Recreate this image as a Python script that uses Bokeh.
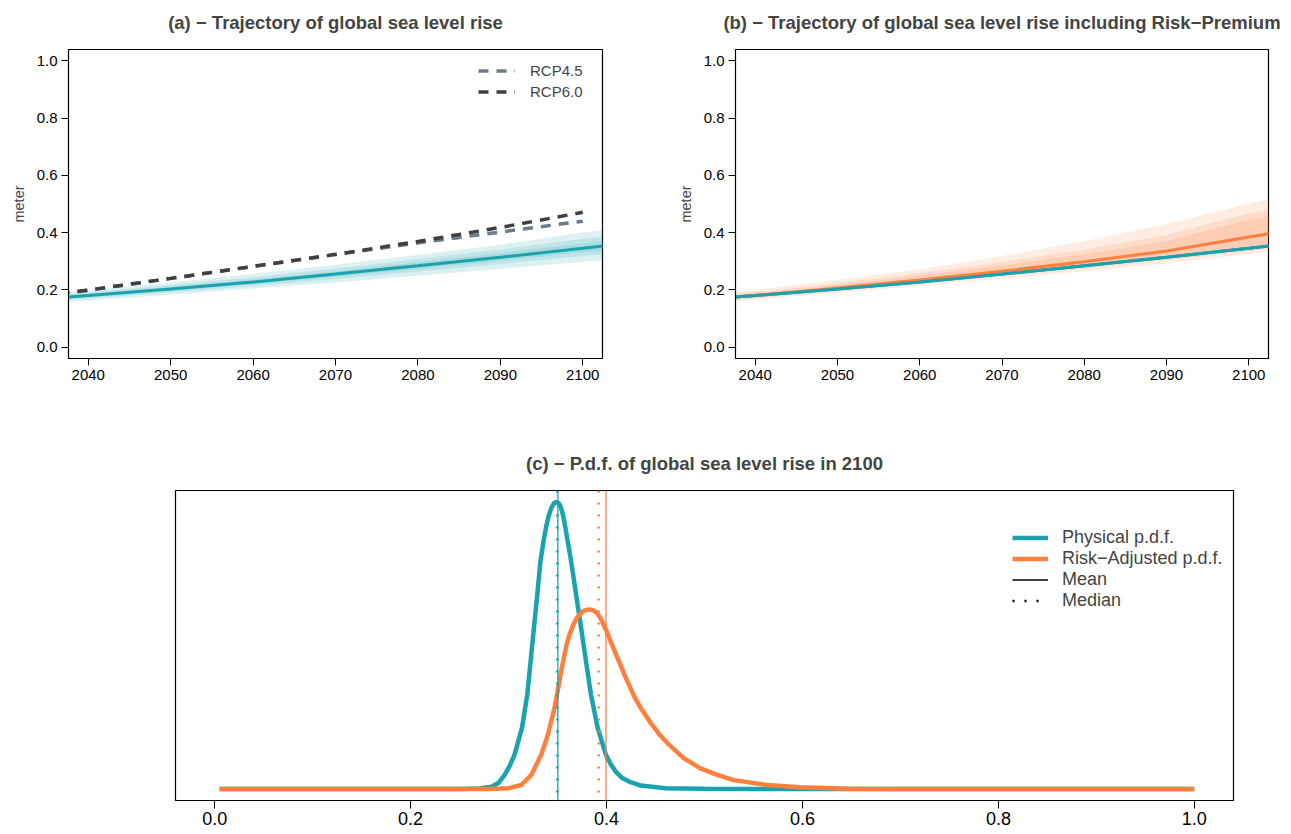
from bokeh.plotting import figure
from bokeh.layouts import column, row
from bokeh.models import (Span, Legend, LegendItem, FixedTicker, Range1d,
                          NumeralTickFormatter)
from bokeh.embed import file_html
from bokeh.resources import INLINE

TEAL = "#1AA3AE"
ORANGE = "#FF7F3F"
RCP45_COL = "#6C7B8B"
RCP60_COL = "#404040"
FONT = "Liberation Sans"

# ---------------- data: panel (a) ----------------
years = [2030, 2040, 2050, 2060, 2070, 2080, 2090, 2100, 2110]
phys_center = [0.158, 0.180, 0.203, 0.227, 0.255, 0.284, 0.314, 0.345, 0.377]
phys_outer_up = [0.176, 0.198, 0.226, 0.256, 0.288, 0.323, 0.358, 0.400, 0.438]
phys_outer_lo = [0.142, 0.163, 0.183, 0.204, 0.226, 0.249, 0.273, 0.298, 0.322]
phys_mid_up = [0.169, 0.191, 0.217, 0.244, 0.275, 0.308, 0.341, 0.378, 0.414]
phys_mid_lo = [0.148, 0.170, 0.191, 0.213, 0.238, 0.263, 0.290, 0.318, 0.345]
phys_in_up = [0.164, 0.186, 0.210, 0.236, 0.265, 0.296, 0.328, 0.362, 0.396]
phys_in_lo = [0.153, 0.174, 0.197, 0.220, 0.246, 0.273, 0.302, 0.331, 0.360]

rcp_years = [2030, 2040, 2050, 2060, 2070, 2080, 2090, 2100]
rcp45 = [0.165, 0.199, 0.240, 0.282, 0.323, 0.364, 0.402, 0.440]
rcp60 = [0.165, 0.199, 0.240, 0.282, 0.324, 0.369, 0.418, 0.471]

# ---------------- data: panel (b) ----------------
risk_center = [0.158, 0.180, 0.206, 0.234, 0.265, 0.298, 0.336, 0.385, 0.430]
risk_outer_up = [0.175, 0.200, 0.235, 0.272, 0.318, 0.370, 0.430, 0.500, 0.570]
risk_outer_lo = [0.146, 0.166, 0.190, 0.213, 0.240, 0.265, 0.292, 0.325, 0.355]
risk_mid_up = [0.167, 0.192, 0.223, 0.258, 0.297, 0.340, 0.392, 0.468, 0.525]
risk_mid_lo = [0.150, 0.170, 0.195, 0.220, 0.248, 0.275, 0.304, 0.336, 0.368]
risk_in_up = [0.163, 0.187, 0.216, 0.249, 0.285, 0.324, 0.370, 0.445, 0.490]
risk_in_lo = [0.154, 0.175, 0.200, 0.226, 0.256, 0.285, 0.318, 0.350, 0.385]

year_ticks = [2040, 2050, 2060, 2070, 2080, 2090, 2100]
meter_ticks = [0.0, 0.2, 0.4, 0.6, 0.8, 1.0]

# ---------------- data: panel (c) (density, scaled to physical peak) ----------------
phys_x = [0.005, 0.10, 0.20, 0.25, 0.27, 0.2825, 0.290, 0.296, 0.301, 0.306,
          0.3137, 0.3191, 0.3225, 0.3259, 0.3293, 0.3326, 0.3355, 0.3384,
          0.3410, 0.3435, 0.3460, 0.3486, 0.3510, 0.353, 0.355, 0.357, 0.360,
          0.3638, 0.3689, 0.374, 0.379, 0.3841, 0.391, 0.3994, 0.4045, 0.4096,
          0.416, 0.423, 0.435, 0.46, 0.50, 0.60, 0.80, 1.0]
phys_pdf = [0, 0, 0, 0, 0.002, 0.008, 0.022, 0.049, 0.080, 0.119,
            0.213, 0.329, 0.445, 0.563, 0.678, 0.795, 0.860, 0.915,
            0.952, 0.978, 0.994, 1.0, 0.996, 0.985, 0.962, 0.930, 0.870,
            0.795, 0.678, 0.562, 0.445, 0.329, 0.212, 0.119, 0.085, 0.060,
            0.038, 0.026, 0.012, 0.003, 0.001, 0, 0, 0]
risk_x = [0.005, 0.10, 0.20, 0.28, 0.30, 0.313, 0.3232, 0.3333, 0.3401, 0.3469,
          0.3519, 0.3554, 0.3590, 0.3621, 0.3660, 0.3700, 0.3740, 0.3780,
          0.3824, 0.3870, 0.3910, 0.3950, 0.3994, 0.4045, 0.4096, 0.4197,
          0.4282, 0.435, 0.4451, 0.4540, 0.4621, 0.479, 0.4959, 0.5129,
          0.5298, 0.5637, 0.5976, 0.648, 0.70, 0.80, 1.0]
risk_pdf = [0, 0, 0, 0, 0.003, 0.014, 0.049, 0.119, 0.189, 0.282,
            0.375, 0.440, 0.500, 0.537, 0.572, 0.598, 0.614, 0.623,
            0.626, 0.622, 0.610, 0.588, 0.555, 0.512, 0.469, 0.387,
            0.323, 0.282, 0.230, 0.190, 0.160, 0.107, 0.072, 0.049,
            0.031, 0.014, 0.006, 0.001, 0, 0, 0]
phys_mean, phys_median = 0.3503, 0.3496
risk_mean, risk_median = 0.3994, 0.392
pdf_ticks = [0.0, 0.2, 0.4, 0.6, 0.8, 1.0]

SHIFT = 8  # top rows are pulled up by this many pixels (title sits higher)


def style(p, title, tick_size, standoff):
    p.title.text = title
    p.title.align = "center"
    p.title.text_font = FONT
    p.title.text_font_size = "18.5px"
    p.title.text_font_style = "bold"
    p.title.standoff = standoff
    p.title.vertical_align = "bottom"
    p.grid.visible = False
    p.outline_line_color = "black"
    p.outline_line_width = 1.2
    p.outline_line_alpha = 1
    p.background_fill_color = "white"
    p.border_fill_color = "white"
    for ax in p.axis:
        ax.major_tick_out = 7
        ax.major_tick_in = 0
        ax.minor_tick_line_color = None
        ax.axis_line_color = "black"
        ax.major_tick_line_color = "black"
        ax.major_label_text_font = FONT
        ax.major_label_text_font_size = tick_size
        ax.major_label_text_color = "black"
        ax.major_label_standoff = 4


def make_traj(width, left, right, title, center, bands, color, extra_line=None):
    p = figure(width=width, height=420 + SHIFT, x_range=Range1d(2037.6, 2102.4),
               y_range=Range1d(-0.04, 1.04), output_backend="svg",
               toolbar_location=None, min_border_left=left, min_border_right=right,
               min_border_top=48 + SHIFT, min_border_bottom=62)
    style(p, title, "15px", 26 + SHIFT)
    for lo, up in bands:
        p.varea(x=years, y1=lo, y2=up, fill_color=color, fill_alpha=0.15)
    if extra_line is not None:
        p.line(years, extra_line, line_color=TEAL, line_width=3)
    p.line(years, center, line_color=color, line_width=3)
    p.xaxis.ticker = FixedTicker(ticks=year_ticks)
    p.yaxis.ticker = FixedTicker(ticks=meter_ticks)
    p.yaxis.formatter = NumeralTickFormatter(format="0.0")
    p.yaxis.axis_label = "meter"
    p.yaxis.axis_label_text_font = FONT
    p.yaxis.axis_label_text_font_style = "normal"
    p.yaxis.axis_label_text_font_size = "14.5px"
    p.yaxis.axis_label_standoff = 7
    return p


pa = make_traj(668, 68, 66, "(a) \u2212 Trajectory of global sea level rise",
               phys_center,
               [(phys_outer_lo, phys_outer_up), (phys_mid_lo, phys_mid_up),
                (phys_in_lo, phys_in_up)], TEAL)
r45 = pa.line(rcp_years, rcp45, line_color=RCP45_COL, line_width=3.5, line_dash="10 8")
r60 = pa.line(rcp_years, rcp60, line_color=RCP60_COL, line_width=3.5, line_dash="10 8")
leg_a = Legend(items=[LegendItem(label="RCP4.5", renderers=[r45]),
                      LegendItem(label="RCP6.0", renderers=[r60])],
               location=(410, 256), label_text_font=FONT, label_text_font_size="15px",
               glyph_width=37, glyph_height=21, label_height=21, label_standoff=15,
               spacing=0, padding=0, margin=0, border_line_color=None,
               background_fill_alpha=0)
pa.add_layout(leg_a)

pb = make_traj(623, 67, 23,
               "(b) \u2212 Trajectory of global sea level rise including Risk\u2212Premium",
               risk_center,
               [(risk_outer_lo, risk_outer_up), (risk_mid_lo, risk_mid_up),
                (risk_in_lo, risk_in_up)], ORANGE, extra_line=phys_center)
pb.line(years, phys_center, line_color=TEAL, line_width=3)

pc = figure(width=1291, height=414, x_range=Range1d(-0.04, 1.04),
            y_range=Range1d(-0.04, 1.04), output_backend="svg",
            toolbar_location=None, y_axis_location=None,
            min_border_left=175, min_border_right=58, min_border_top=70,
            min_border_bottom=34)
style(pc, "(c) \u2212 P.d.f. of global sea level rise in 2100", "18px", 33)
pc.xaxis.major_tick_out = 8
pc.xaxis.major_label_standoff = 3
pc.xaxis.ticker = FixedTicker(ticks=pdf_ticks)
pc.xaxis.formatter = NumeralTickFormatter(format="0.0")
rp = pc.line(phys_x, phys_pdf, line_color=TEAL, line_width=4.5)
rr = pc.line(risk_x, risk_pdf, line_color=ORANGE, line_width=4.5)
for loc, col in [(phys_mean, TEAL), (risk_mean, ORANGE)]:
    pc.add_layout(Span(location=loc, dimension="height", line_color=col, line_width=1.3))
for loc, col in [(phys_median, TEAL), (risk_median, ORANGE)]:
    pc.add_layout(Span(location=loc, dimension="height", line_color=col,
                       line_width=2.5, line_dash="2 10"))
# single-point renderers: nothing drawn, used only for legend glyphs
rmean = pc.line(x=[phys_mean], y=[0], line_color="black", line_width=1.3)
rmed = pc.line(x=[phys_median], y=[0], line_color="black", line_width=2.5,
               line_dash="2 10")
leg_c = Legend(items=[LegendItem(label="Physical p.d.f.", renderers=[rp]),
                      LegendItem(label="Risk\u2212Adjusted p.d.f.", renderers=[rr]),
                      LegendItem(label="Mean", renderers=[rmean]),
                      LegendItem(label="Median", renderers=[rmed])],
               location=(837, 189), label_text_font=FONT, label_text_font_size="18px",
               glyph_width=36, glyph_height=19, label_height=19, label_standoff=14,
               spacing=0, padding=0, margin=0, border_line_color=None,
               background_fill_alpha=0)
pc.add_layout(leg_c)

top = row(pa, pb, margin=(-SHIFT, 0, 0, 0))
layout = column(top, pc)
open("out.html", "w").write(file_html(layout, INLINE))
